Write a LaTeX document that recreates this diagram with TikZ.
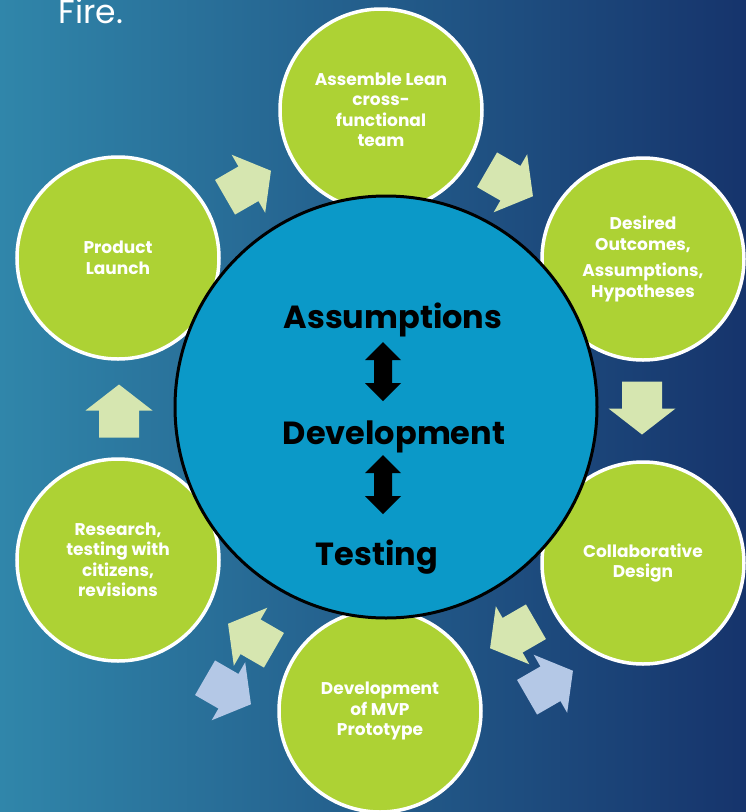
\documentclass[tikz,border=0pt]{standalone}
\usepackage{fontspec}
\setmainfont{Poppins}

\definecolor{bgteal}{RGB}{48,134,170}
\definecolor{bgmid}{RGB}{32,94,144}
\definecolor{bgnavy}{RGB}{22,52,108}
\definecolor{leaf}{RGB}{173,210,52}
\definecolor{paleleaf}{RGB}{214,230,176}
\definecolor{paleblue}{RGB}{180,200,230}
\definecolor{hubblue}{RGB}{11,153,200}

\tikzset{
	stage/.style={circle, draw=white, line width=3.5pt, fill=leaf, minimum size=202pt,
		inner sep=0pt, text=white, align=center, font=\bfseries\fontsize{17}{20.5}\selectfont},
	hub/.style={circle, draw=black, line width=3pt, fill=hubblue, minimum size=422pt},
	hubword/.style={anchor=base, font=\bfseries\fontsize{32}{36}\selectfont},
	pics/blockarrow/.style={code={
		\fill[#1] (26.5pt,0pt) -- (0.5pt,33.5pt) -- (0.5pt,20pt) -- (-26.5pt,20pt)
			-- (-26.5pt,-20pt) -- (0.5pt,-20pt) -- (0.5pt,-33.5pt) -- cycle;
	}},
	pics/updown/.style={code={
		\fill[black] (0pt,29.5pt) -- (18pt,11.5pt) -- (9pt,11.5pt) -- (9pt,-11.5pt)
			-- (18pt,-11.5pt) -- (0pt,-29.5pt) -- (-18pt,-11.5pt) -- (-9pt,-11.5pt)
			-- (-9pt,11.5pt) -- (-18pt,11.5pt) -- cycle;
	}},
}

\begin{document}
\begin{tikzpicture}[x=1pt, y=-1pt]
	\useasboundingbox (0,0) rectangle (746,812);
	\clip (0,0) rectangle (746,812);
	\shade[left color=bgteal, middle color=bgmid, right color=bgnavy] (0,0) rectangle (746,812);

	\node[anchor=base west, text=white, font=\fontsize{33}{36}\selectfont] (fire) at (55,23) {Fire.};

	% the six stages
	\node[stage] (team) at (381,110) {Assemble Lean\\cross-\\functional\\team};
	\node[stage] (outcomes) at (643,259) {Desired\\Outcomes,\\[6pt]Assumptions,\\Hypotheses};
	\node[stage] (design) at (643,563) {Collaborative\\Design};
	\node[stage] (mvp) at (380,711) {Development\\of MVP\\Prototype};
	\node[stage] (research) at (118,560) {Research,\\testing with\\citizens,\\revisions};
	\node[stage] (launch) at (118,258) {Product\\Launch};

	% arrows between the stages
	\pic[rotate=30] at (248,184) {blockarrow=paleleaf};
	\pic[rotate=-30] at (510,183) {blockarrow=paleleaf};
	\pic[rotate=-90] at (642,408) {blockarrow=paleleaf};
	\pic[rotate=210] at (513,635) {blockarrow=paleleaf};
	\pic[rotate=30] at (550,684) {blockarrow=paleblue};
	\pic[rotate=150] at (251,637) {blockarrow=paleleaf};
	\pic[rotate=-30] at (228,691) {blockarrow=paleblue};
	\pic[rotate=90] at (119,411) {blockarrow=paleleaf};

	% centre
	\node[hub] (hub) at (386,407) {};
	\node[hubword] (assume) at (393,328) {Assumptions};
	\node[hubword] (develop) at (394,444) {Development};
	\node[hubword] (test) at (377,565) {Testing};
	\pic at (383,371.5) {updown};
	\pic at (383,484.5) {updown};
\end{tikzpicture}
\end{document}
